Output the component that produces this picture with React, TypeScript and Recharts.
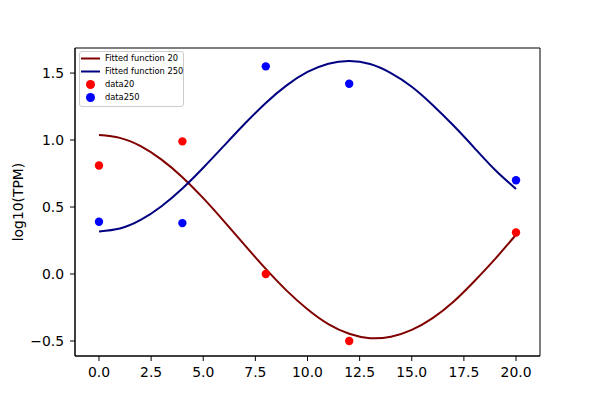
import React from 'react';
import { ComposedChart, Line, Scatter, XAxis, YAxis, Legend, ReferenceArea } from 'recharts';

const sampleX = [0, 1, 2, 3, 4, 5, 6, 7, 8, 9, 10, 11, 12, 13, 14, 15, 16, 17, 18, 19, 20];
const fit20 = [1.037, 1.016, 0.954, 0.854, 0.723, 0.566, 0.393, 0.214, 0.038, -0.124, -0.263, -0.374, -0.446, -0.479, -0.468, -0.417, -0.329, -0.207, -0.054, 0.113, 0.293];
const fit250 = [0.318, 0.34, 0.404, 0.506, 0.638, 0.793, 0.958, 1.123, 1.277, 1.408, 1.508, 1.57, 1.59, 1.567, 1.5, 1.398, 1.262, 1.108, 0.942, 0.776, 0.635];

const dataX = [0, 4, 8, 12, 20];
const data20 = [0.81, 0.99, 0.0, -0.5, 0.31];
const data250 = [0.39, 0.38, 1.55, 1.42, 0.7];

const xTicks = [0, 2.5, 5, 7.5, 10, 12.5, 15, 17.5, 20];
const yTicks = [-0.5, 0, 0.5, 1, 1.5];
const xDomain = [-1.15, 21.15];
const yDomain = [-0.612, 1.687];

const legendItems = [
  { label: 'Fitted function 20', kind: 'line', color: '#800000' },
  { label: 'Fitted function 250', kind: 'line', color: '#000080' },
  { label: 'data20', kind: 'dot', color: '#ff0000' },
  { label: 'data250', kind: 'dot', color: '#0000ff' },
];

const lineRows = sampleX.map((x, i) => ({ x, f20: fit20[i], f250: fit250[i] }));
const dots20 = dataX.map((x, i) => ({ x, y: data20[i] }));
const dots250 = dataX.map((x, i) => ({ x, y: data250[i] }));

const FONT = '"DejaVu Sans", sans-serif';
const fmt = (v: number) => v.toFixed(1).replace('-', '\u2212');

const dotShape = (color: string) => (props: any) => (
  <circle cx={props.cx} cy={props.cy} r={4.2} fill={color} />
);

const LegendBox = () => (
  <div
    style={{
      border: '1px solid #cccccc',
      borderRadius: 3,
      background: 'rgba(255,255,255,0.8)',
      width: 103,
      padding: '0 0 2px 0',
      fontFamily: FONT,
      fontSize: 8.3,
      color: '#000',
      textAlign: 'left',
    }}
  >
    {legendItems.map((it) => (
      <div key={it.label} style={{ display: 'flex', alignItems: 'center', height: 13 }}>
        <svg width={25} height={13} style={{ flex: 'none' }}>
          {it.kind === 'line' ? (
            <line x1={1} x2={20} y1={6.5} y2={6.5} stroke={it.color} strokeWidth={2} />
          ) : (
            <circle cx={10.5} cy={6.5} r={4.5} fill={it.color} />
          )}
        </svg>
        <span style={{ whiteSpace: 'nowrap', lineHeight: '13px' }}>{it.label}</span>
      </div>
    ))}
  </div>
);

export default function App() {
  return (
    <div style={{ position: 'absolute', left: 0, top: 0, width: 600, height: 400, background: '#fff' }}>
      <ComposedChart
        width={600}
        height={400}
        data={lineRows}
        margin={{ top: 48, right: 60, bottom: 14, left: 15 }}
      >
        <XAxis
          dataKey="x"
          type="number"
          domain={xDomain}
          ticks={xTicks}
          tickFormatter={fmt}
          allowDataOverflow
          height={30}
          tickSize={5}
          tickMargin={6}
          stroke="#000"
          tick={{ fill: '#000', fontSize: 13.9, fontFamily: FONT }}
        />
        <YAxis
          type="number"
          domain={yDomain}
          ticks={yTicks}
          tickFormatter={fmt}
          allowDataOverflow
          width={60}
          tickSize={5}
          tickMargin={6}
          stroke="#000"
          tick={{ fill: '#000', fontSize: 13.9, fontFamily: FONT }}
          label={{
            content: () => (
              <text
                x={18}
                y={202}
                transform="rotate(-90, 18, 202)"
                textAnchor="middle"
                dominantBaseline="central"
                fontSize={13.9}
                fontFamily={FONT}
                fill="#000"
              >
                log10(TPM)
              </text>
            ),
          }}
        />
        <ReferenceArea
          x1={xDomain[0]}
          x2={xDomain[1]}
          y1={yDomain[0]}
          y2={yDomain[1]}
          fill="none"
          fillOpacity={0}
          stroke="#000"
          strokeWidth={1}
          ifOverflow="visible"
        />
        <Legend
          layout="horizontal"
          verticalAlign="middle"
          align="center"
          content={() => <LegendBox />}
          wrapperStyle={{ position: 'absolute', left: 79, top: 51, width: 'auto', height: 'auto' }}
        />
        <Line
          dataKey="f20"
          name="Fitted function 20"
          type="natural"
          stroke="#800000"
          strokeWidth={2}
          dot={false}
          activeDot={false}
          isAnimationActive={false}
        />
        <Line
          dataKey="f250"
          name="Fitted function 250"
          type="natural"
          stroke="#000080"
          strokeWidth={2}
          dot={false}
          activeDot={false}
          isAnimationActive={false}
        />
        <Scatter
          name="data20"
          data={dots20}
          dataKey="y"
          fill="#ff0000"
          shape={dotShape('#ff0000')}
          isAnimationActive={false}
        />
        <Scatter
          name="data250"
          data={dots250}
          dataKey="y"
          fill="#0000ff"
          shape={dotShape('#0000ff')}
          isAnimationActive={false}
        />
      </ComposedChart>
    </div>
  );
}
